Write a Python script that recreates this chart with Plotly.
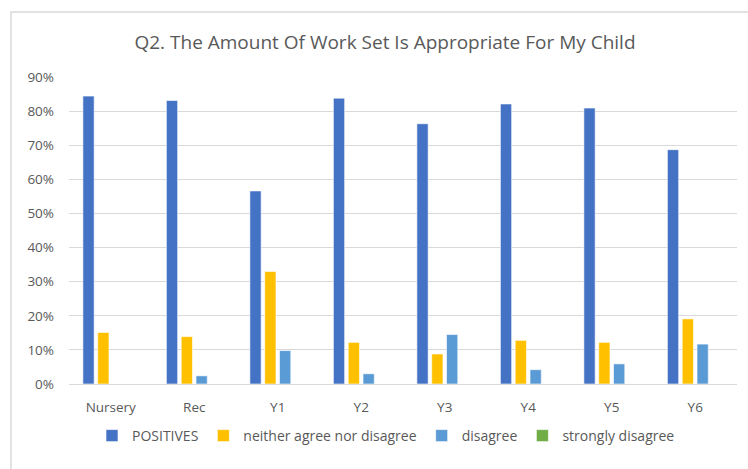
import plotly.graph_objects as go

categories = ["Nursery", "Rec", "Y1", "Y2", "Y3", "Y4", "Y5", "Y6"]
positives = [0.844, 0.831, 0.566, 0.838, 0.763, 0.821, 0.809, 0.687]
neither = [0.151, 0.139, 0.330, 0.122, 0.088, 0.128, 0.122, 0.191]
disagree = [0.0, 0.024, 0.098, 0.030, 0.145, 0.042, 0.059, 0.117]
strongly = [0.0, 0.0, 0.0, 0.0, 0.0, 0.0, 0.0, 0.0]

series = [
    ("POSITIVES", positives, "#4472C4"),
    ("neither agree nor disagree", neither, "#FFC000"),
    ("disagree", disagree, "#5B9BD5"),
    ("strongly disagree", strongly, "#70AD47"),
]

fig = go.Figure()
for name, vals, col in series:
    fig.add_trace(go.Bar(x=categories, y=vals, name=name, marker_color=col,
                         marker_line=dict(color="white", width=0.6)))

W, H = 748, 469
L, R, T, B = 69, 11, 77, 85
pw, ph = W - L - R, H - T - B

def px_x(px):
    return (px - L) / pw

def px_y(py):
    return (H - B - py) / ph

FONT = "'Open Sans', Lato, sans-serif"
fig.update_layout(
    width=W, height=H,
    margin=dict(l=L, r=R, t=T, b=B, autoexpand=False),
    paper_bgcolor="white", plot_bgcolor="white",
    font=dict(family=FONT, color="#595959", size=13),
    title=dict(text="Q2. The Amount Of Work Set Is Appropriate For My Child",
               x=385 / W, xanchor="center", xref="container",
               y=1 - 42 / H, yanchor="middle", yref="container",
               font=dict(size=19, color="#595959")),
    barmode="group", bargap=0.29, bargroupgap=0.24,
    showlegend=True,
    legend=dict(orientation="h", x=px_x(386), xanchor="center", xref="paper",
                y=px_y(436), yanchor="middle", yref="paper",
                font=dict(size=14, color="#595959"), itemwidth=30,
                traceorder="normal"),
    xaxis=dict(showgrid=False, showline=False, ticks="", tickfont=dict(size=13.5),
               automargin=False, ticklabelstandoff=13),
    yaxis=dict(range=[0, 0.9], dtick=0.1, tickformat=".0%", showgrid=True,
               gridcolor="#D9D9D9", gridwidth=1.2, zeroline=True,
               zerolinecolor="#D9D9D9", zerolinewidth=1.2, showline=False,
               ticks="", tickfont=dict(size=13.5), ticklabelstandoff=14,
               automargin=False),
    shapes=[
        dict(type="rect", xref="paper", yref="paper",
             x0=px_x(11), x1=px_x(W + 20), y0=px_y(H + 20), y1=px_y(12),
             line=dict(color="#D9D9D9", width=1.5), fillcolor="rgba(0,0,0,0)",
             layer="below"),
    ],
)

fig.write_html("out.html", config={"displayModeBar": False},
               post_script="document.body.style.margin='0';document.body.style.overflow='hidden';")
